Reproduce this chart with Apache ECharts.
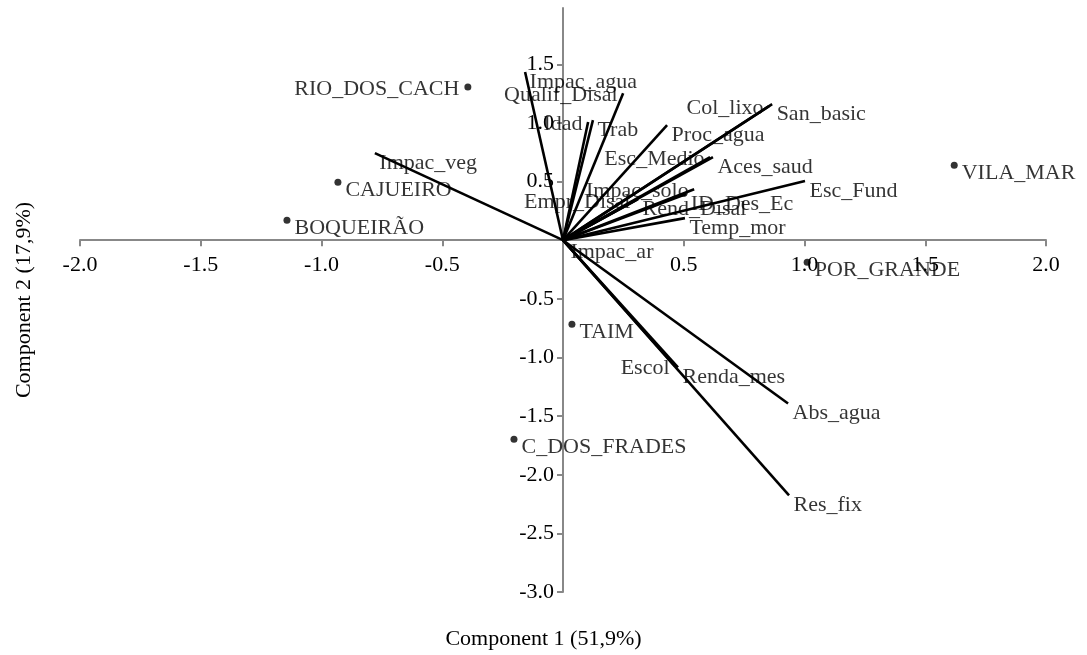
<!DOCTYPE html>
<html>
<head>
<meta charset="utf-8">
<title>PCA biplot</title>
<script src="https://cdn.jsdelivr.net/npm/echarts@6/dist/echarts.min.js"></script>
<style>
  html, body { margin: 0; padding: 0; background: #ffffff; }
  #chart { width: 1087px; height: 655px; }
</style>
</head>
<body>
<div id="chart"></div>
<script>
// Sites (scores on components 1 and 2)
const siteNames = ['RIO_DOS_CACH', 'CAJUEIRO', 'BOQUEIRÃO', 'VILA_MAR', 'POR_GRANDE', 'TAIM', 'C_DOS_FRADES'];
const sitePC1 = [-0.394, -0.932, -1.143, 1.620, 1.011, 0.037, -0.203];
const sitePC2 = [1.306, 0.495, 0.171, 0.640, -0.188, -0.717, -1.698];

// Variables (loadings on components 1 and 2)
const varNames = [
  'Impac_agua', 'Qualif_Disal', 'Idad', 'Trab', 'Col_lixo', 'San_basic', 'Proc_agua',
  'Esc_Medio', 'Aces_saud', 'Impac_solo', 'ID_Des_Ec', 'Esc_Fund', 'Empr_Disal', 'Rend_Disal',
  'Temp_mor', 'Impac_ar', 'Impac_veg', 'Escol', 'Renda_mes', 'Abs_agua', 'Res_fix'
];
const varPC1 = [
  -0.157, 0.249, 0.104, 0.124, 0.853, 0.866, 0.431,
  0.609, 0.621, 0.543, 0.510, 1.002, 0.302, 0.311,
  0.505, 0.012, -0.779, 0.464, 0.476, 0.932, 0.936
];
const varPC2 = [
  1.434, 1.254, 1.007, 1.024, 1.144, 1.161, 0.981,
  0.708, 0.708, 0.435, 0.393, 0.504, 0.341, 0.350,
  0.188, -0.017, 0.743, -1.075, -1.084, -1.392, -2.176
];

// Tick labels
const xTicks = [-2.0, -1.5, -1.0, -0.5, 0.5, 1.0, 1.5, 2.0];
const yTicks = [-3.0, -2.5, -2.0, -1.5, -1.0, -0.5, 0.5, 1.0, 1.5];

const xTitle = 'Component 1 (51,9%)';
const yTitle = 'Component 2 (17,9%)';

// Names whose text sits on the left of the point
const leftSide = new Set(['RIO_DOS_CACH', 'Qualif_Disal', 'Idad', 'Col_lixo', 'Esc_Medio',
  'Impac_solo', 'Empr_Disal', 'Escol']);

const FONT = "'Liberation Serif', 'Times New Roman', 'DejaVu Serif', serif";
const FS = 22;
const INK = '#000000';
const AXIS = '#888888';

// Plot area and axis ranges
const W = 1087, H = 655;
const G = { left: 80, right: 41, top: 8, bottom: 63 };
const X_MIN = -2, X_MAX = 2, Y_MIN = -3, Y_MAX = 1.98;

// Shift the axes so they cross at the origin (labels travel with them)
const plotW = W - G.left - G.right;
const plotH = H - G.top - G.bottom;
const xAxisOffset = -((0 - Y_MIN) / (Y_MAX - Y_MIN)) * plotH;
const yAxisOffset = -((0 - X_MIN) / (X_MAX - X_MIN)) * plotW;

function labelFor(name, dy) {
  if (leftSide.has(name)) {
    return { position: 'left', distance: 5, offset: [0, 2] };
  }
  return { position: 'right', distance: 4, offset: [0, dy] };
}

const vectorLines = varNames.map((n, i) => ({ coords: [[0, 0], [varPC1[i], varPC2[i]]] }));

const vectorTips = varNames.map((n, i) => ({
  name: n,
  value: [varPC1[i], varPC2[i]],
  label: labelFor(n, 10)
}));

const sitePoints = siteNames.map((n, i) => ({
  name: n,
  value: [sitePC1[i], sitePC2[i]],
  label: labelFor(n, 8)
}));

const textStyleBase = { color: INK, fontFamily: FONT, fontSize: FS };

const chart = echarts.init(document.getElementById('chart'), null, { renderer: 'canvas' });

chart.setOption({
  backgroundColor: '#ffffff',
  animation: false,
  grid: G,
  xAxis: {
    type: 'value',
    min: X_MIN, max: X_MAX, interval: 0.5,
    position: 'bottom',
    offset: xAxisOffset,
    axisLine: { onZero: false, lineStyle: { color: AXIS, width: 2 } },
    axisTick: { show: true, length: 6, customValues: xTicks, lineStyle: { color: AXIS, width: 2 } },
    axisLabel: {
      customValues: xTicks, margin: 14,
      color: INK, fontFamily: FONT, fontSize: FS,
      formatter: v => Number(v).toFixed(1)
    },
    splitLine: { show: false }
  },
  yAxis: {
    type: 'value',
    min: Y_MIN, max: Y_MAX, interval: 0.5,
    position: 'left',
    offset: yAxisOffset,
    axisLine: { onZero: false, lineStyle: { color: AXIS, width: 2 } },
    axisTick: { show: true, length: 6, customValues: yTicks, lineStyle: { color: AXIS, width: 2 } },
    axisLabel: {
      customValues: yTicks, margin: 9,
      color: INK, fontFamily: FONT, fontSize: FS,
      formatter: v => Number(v).toFixed(1)
    },
    splitLine: { show: false }
  },
  graphic: [
    {
      type: 'text', left: 'center', top: 628,
      style: { text: xTitle, fill: INK, font: FS + 'px ' + FONT }
    },
    {
      type: 'text', x: 24, y: 300, rotation: Math.PI / 2,
      style: { text: yTitle, fill: INK, font: FS + 'px ' + FONT, align: 'center', verticalAlign: 'middle' }
    }
  ],
  series: [
    {
      name: 'tips',
      type: 'scatter',
      z: 3,
      symbolSize: 1,
      itemStyle: { color: 'rgba(0,0,0,0)' },
      label: Object.assign({ show: true, formatter: '{b}' }, textStyleBase),
      data: vectorTips,
      silent: true
    },
    {
      name: 'vectors',
      type: 'lines',
      coordinateSystem: 'cartesian2d',
      z: 4,
      lineStyle: { color: '#000000', width: 2.6, opacity: 1, curveness: 0 },
      data: vectorLines,
      silent: true
    },
    {
      name: 'sites',
      type: 'scatter',
      z: 5,
      symbolSize: 7,
      itemStyle: { color: '#000000' },
      label: Object.assign({ show: true, formatter: '{b}' }, textStyleBase),
      data: sitePoints,
      silent: true
    }
  ]
});
</script>
</body>
</html>
